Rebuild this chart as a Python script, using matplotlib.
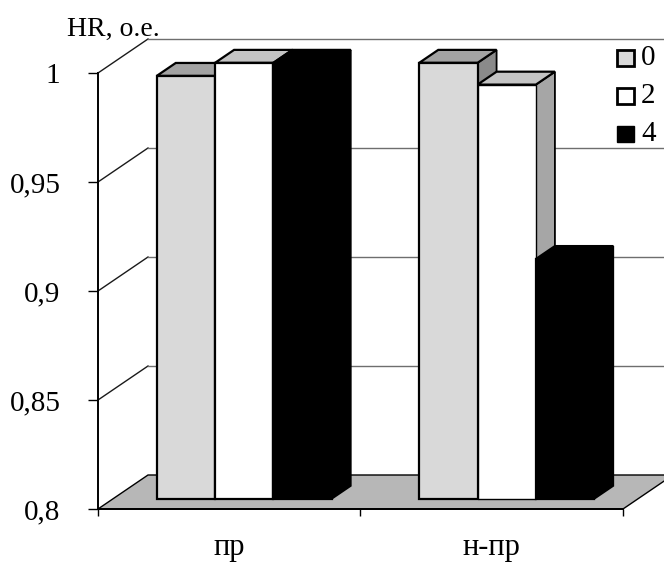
import matplotlib
matplotlib.use("Agg")
import matplotlib.pyplot as plt
from matplotlib.patches import Polygon

# ---- data ----
categories = ["пр", "н-пр"]
series_names = ["0", "2", "4"]
values_0 = [0.994, 1.000]
values_2 = [1.000, 0.990]
values_4 = [1.000, 0.910]
y_ticks = [0.80, 0.85, 0.90, 0.95, 1.00]
y_tick_labels = ["0,8", "0,85", "0,9", "0,95", "1"]
y_title = "HR, o.e."

series_values = [values_0, values_2, values_4]

# ---- styling ----
front_colors = ["#d9d9d9", "#ffffff", "#000000"]
top_colors = ["#a3a3a3", "#c4c4c4", "#000000"]
side_colors = ["#8a8a8a", "#a6a6a6", "#000000"]
floor_color = "#b7b7b7"

plt.rcParams["font.family"] = ["Liberation Serif", "DejaVu Serif"]

W, H = 664, 563
fig = plt.figure(figsize=(W / 100, H / 100), dpi=100)
ax = fig.add_axes([98 / W, 54 / H, 525 / W, 436 / H])
ax.set_xlim(0, 2)
ax.set_ylim(0.8, 1.0)

# oblique depth offset (full depth) expressed in data units
DEPTH_X = 50 / (525 / 2)
DEPTH_Y = 34 * 0.2 / 436


def P(x, v, d):
    return (x + d * DEPTH_X, v + d * DEPTH_Y)


def poly(pts, fc, ec="black", lw=1.0, z=1):
    p = Polygon(pts, closed=True, facecolor=fc, edgecolor=ec, linewidth=lw,
                clip_on=False, zorder=z, joinstyle="miter")
    ax.add_patch(p)


# floor
poly([P(0, 0.8, 0), P(2, 0.8, 0), P(2, 0.8, 1), P(0, 0.8, 1)],
     floor_color, ec="black", lw=1.0, z=1)

# back-wall gridlines and left-wall diagonals
for v in y_ticks[1:]:
    (x0, y0), (x1, y1) = P(0, v, 0), P(0, v, 1)
    ax.plot([x0, x1], [y0, y1], color="#1a1a1a", lw=1.0, clip_on=False, zorder=1)
    (x2, y2) = P(2, v, 1)
    ax.plot([x1, x2], [y1, y2], color="#6e6e6e", lw=1.0, clip_on=False, zorder=1)

# 3-D bars
n_series = len(series_values)
bar_w = 1 / (n_series + 1.5)
d_front, d_back = 0.30, 0.68
for i, _ in enumerate(categories):
    for j in range(n_series):
        v = series_values[j][i]
        xa = i + 0.75 * bar_w + j * bar_w
        xb = xa + bar_w
        z = 3 + i * 10 + j
        # right side face
        poly([P(xb, 0.8, d_front), P(xb, 0.8, d_back), P(xb, v, d_back), P(xb, v, d_front)],
             side_colors[j], lw=1.3, z=z)
        # top face
        poly([P(xa, v, d_front), P(xb, v, d_front), P(xb, v, d_back), P(xa, v, d_back)],
             top_colors[j], lw=1.6, z=z)
        # front face
        poly([P(xa, 0.8, d_front), P(xb, 0.8, d_front), P(xb, v, d_front), P(xa, v, d_front)],
             front_colors[j], lw=1.6 if j != 1 or i == 0 else 1.0, z=z)

# axes
for s in ("top", "right"):
    ax.spines[s].set_visible(False)
for s in ("left", "bottom"):
    ax.spines[s].set_linewidth(1.4)
    ax.spines[s].set_zorder(40)
ax.set_yticks(y_ticks)
ax.set_yticklabels(y_tick_labels)
ax.tick_params(axis="y", length=7, width=1.0, pad=20, labelsize=21, direction="out")
ax.set_xticks([0, 1, 2])
ax.set_xticklabels([])
ax.set_xticks([0.5, 1.5], minor=True)
ax.set_xticklabels(categories, minor=True)
ax.tick_params(axis="x", which="major", length=5, width=1.0, direction="out")
ax.tick_params(axis="x", which="minor", length=0, pad=17, labelsize=22)
ax.patch.set_visible(False)

fig.text(67 / W, 1 - 29 / H, y_title, fontsize=20, ha="left", va="center")

# legend
leg_x = 617 / W
for k, (name, col) in enumerate(zip(series_names, front_colors)):
    yc = 1 - (58 + 38 * k) / H
    sq = plt.Rectangle((leg_x, yc - 8 / H), 17 / W, 16 / H, transform=fig.transFigure,
                       facecolor=col, edgecolor="black", linewidth=2.0 if k < 2 else 1.0,
                       clip_on=False)
    fig.patches.append(sq)
    fig.text(leg_x + 24 / W, yc, name, fontsize=21, ha="left", va="center")

fig.savefig("out.png", dpi=100)
